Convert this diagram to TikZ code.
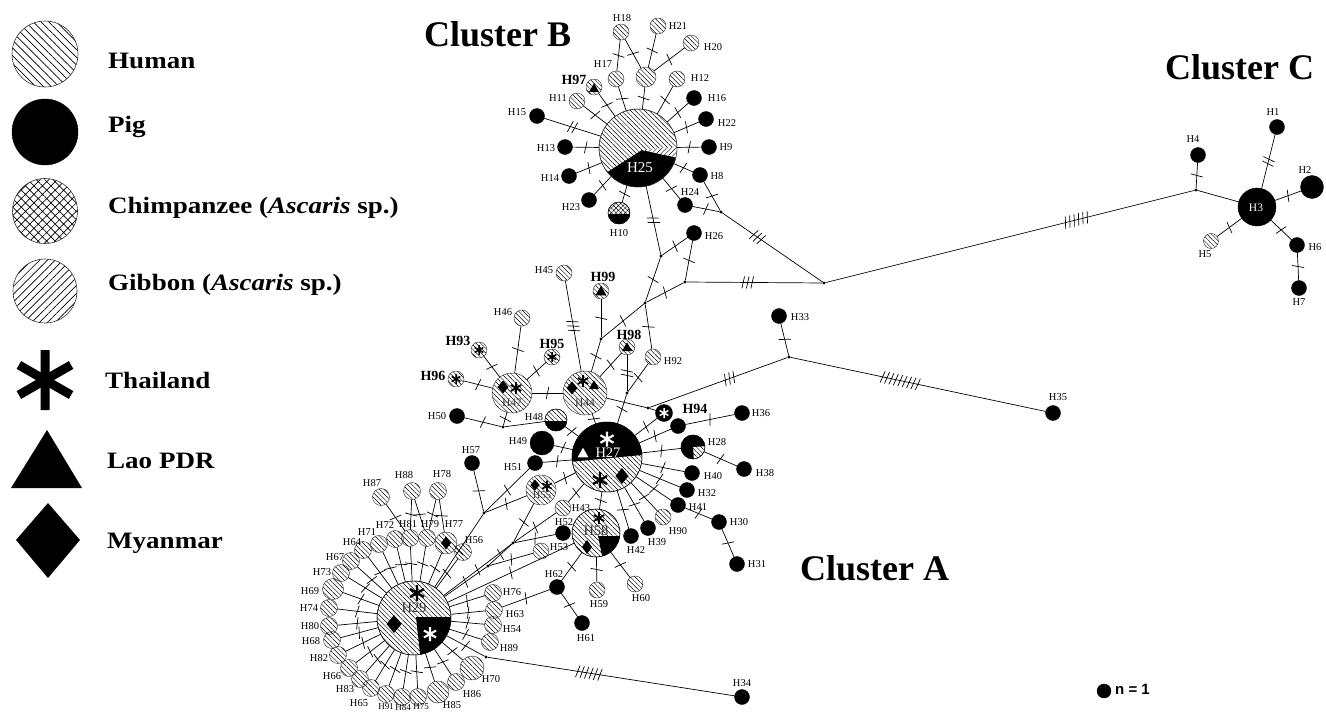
\documentclass[tikz,border=0pt]{standalone}
\usepackage{fontspec}
\setmainfont{Liberation Serif}
\newfontfamily\legfont{Liberation Serif}[FakeStretch=1.15]
\newfontfamily\sansfnt{Liberation Sans}
\usetikzlibrary{patterns.meta,decorations.markings,backgrounds}

\newcommand{\MkAst}[4]{\begin{scope}[shift={(#1,#2)}]\draw[#4,line width=#3*0.3pt] (0,-#3) -- (0,#3) (-0.87*#3,-0.5*#3) -- (0.87*#3,0.5*#3) (-0.87*#3,0.5*#3) -- (0.87*#3,-0.5*#3);\end{scope}}
\newcommand{\MkTri}[4]{\fill[#4] (#1-#3,#2+0.8*#3) -- (#1+#3,#2+0.8*#3) -- (#1,#2-0.95*#3) -- cycle;}
\newcommand{\MkDia}[5]{\fill[#5] (#1,#2-#4) -- (#1+#3,#2) -- (#1,#2+#4) -- (#1-#3,#2) -- cycle;}

\tikzset{
 nd/.style={circle, inner sep=0pt, outer sep=0pt},
 hum/.style={nd, draw=black!80, line width=0.45pt, pattern={Lines[angle=-45,distance=3.3pt,line width=0.45pt]}, minimum size=#1},
 hum/.default=17pt,
 chi/.style={nd, draw=black!80, line width=0.45pt, pattern={Hatch[angle=45,distance=3.3pt,line width=0.45pt]}, minimum size=#1},
 pig/.style={nd, fill=black, draw=black, minimum size=#1},
 pig/.default=15pt,
 jn/.style={nd, fill=black, minimum size=3.2pt},
 lhum/.style={nd, draw=black!80, line width=0.6pt, pattern={Lines[angle=-45,distance=5.5pt,line width=0.7pt]}, minimum size=#1},
 lchi/.style={nd, draw=black!80, line width=0.6pt, pattern={Hatch[angle=45,distance=6pt,line width=0.7pt]}, minimum size=#1},
 lgib/.style={nd, draw=black!80, line width=0.6pt, pattern={Lines[angle=45,distance=5.5pt,line width=0.7pt]}, minimum size=#1},
 edge/.style={line width=0.7pt},
 lab/.style={inner sep=0pt, font=\fontsize{10.5}{11}\selectfont},
 slab/.style={inner sep=0pt, font=\fontsize{9}{10}\selectfont},
 blab/.style={inner sep=0pt, font=\fontsize{14}{15}\selectfont\bfseries},
 ttl/.style={inner sep=0pt, anchor=base west, font=\fontsize{36}{40}\selectfont\bfseries},
 leg/.style={inner sep=0pt, anchor=base west, font=\legfont\fontsize{23.5}{26}\selectfont\bfseries},
 tickpos/.store in=\tpos, tickpos=0.5,
 mut/.style={postaction={decorate,decoration={markings,mark=at position \tpos with {\foreach \k in {1,...,#1}{\draw[line width=0.7pt] ({(\k-(#1+1)/2)*4.5pt-1.3pt},-6pt) -- ({(\k-(#1+1)/2)*4.5pt+1.3pt},6pt);}}}}},
}

\begin{document}
\begin{tikzpicture}[x=1pt,y=-1pt]
\useasboundingbox (0,0) rectangle (1326,712);
\begin{scope}[on background layer]
\fill[white] (0,0) rectangle (1326,712);
\end{scope}

% ---------- legend ----------
\node[lhum=66pt] (LHum) at (45,54) {};
\node[pig=66pt] (LPig) at (45,132) {};
\node[lchi=65pt] (LChi) at (45,211) {};
\node[lgib=64pt] (LGib) at (45,291) {};
\MkAst{45}{380}{30}{black}
\fill (11,488) -- (82,488) -- (47,430) -- cycle;
\fill (48,503) -- (80,540) -- (48,578) -- (16,540) -- cycle;
\node[leg] (tHum) at (108,68) {Human};
\node[leg] (tPig) at (108,132) {Pig};
\node[leg] (tChi) at (108,213) {Chimpanzee (\textit{Ascaris} sp.)};
\node[leg] (tGib) at (108,290) {Gibbon (\textit{Ascaris} sp.)};
\node[leg] (tTha) at (105,388) {Thailand};
\node[leg] (tLao) at (107,468) {Lao PDR};
\node[leg] (tMya) at (107,548) {Myanmar};

\node[ttl] (tB) at (424,46) {Cluster B};
\node[ttl] (tC) at (1165,79) {Cluster C};
\node[ttl] (tA) at (800,580) {Cluster A};

\node[pig=14pt] (N1) at (1104,691) {};
\node[anchor=west, inner sep=0pt, font=\sansfnt\bfseries\fontsize{15}{16}\selectfont] (tN1) at (1115,689) {n = 1};

% ---------- junctions ----------
\foreach \n/\x/\y in {jH8/721/212, ja/661/256, jb/685/282, jc/645/303, jfar/824/283, jd/601/339, je/627/393, jf/648/408, j33/789/357, jC/1196/190, jg/503/427, j57/484/513, jk/513/543, jl/488/566, j34/486/657}
  \node[jn] (\n) at (\x,\y) {};

% ---------- cluster B ----------
\node[hum=78pt] (H25) at (638,148) {};
\begin{scope}
\clip (638,148) circle (39pt);
\fill[black] (595,180) -- (642,150) -- (690,160.5) -- (690,195) -- (595,195) -- cycle;
\fill[white] (642,150) -- (690,145.5) -- (690,160.5) -- cycle;
\fill[pattern={Lines[angle=45,distance=3.3pt,line width=0.45pt]}] (642,150) -- (690,145.5) -- (690,160.5) -- cycle;
\end{scope}
\draw[line width=0.45pt, black!80] (638,148) circle (39pt);
\node[inner sep=0pt, text=white, font=\fontsize{15}{16}\selectfont] (lH25) at (640,168) {H25};

\node[hum=20pt] (Hm) at (646,77) {};
\foreach \n/\x/\y in {H18/621/32, H21/658/26, H20/691/43, H17/616/79, H12/677/79, H11/577/101}
  \node[hum=16pt] (\n) at (\x,\y) {};
\node[hum=16pt] (H97) at (594,87) {};
\MkTri{594}{88}{5}{black}
\foreach \n/\x/\y in {H15/537/116, H16/694/98, H22/706/119, H13/565/147, H9/709/147, H14/569/176, H8/700/175, H23/589/200, H24/685/205, H26/694/233}
  \node[pig] (\n) at (\x,\y) {};
\node[chi=22pt] (H10) at (619,213) {};
\begin{scope}
\clip (619,213) circle (11pt);
\fill[black] (606,214) rectangle (632,226);
\end{scope}
\draw[line width=0.45pt] (619,213) circle (11pt);

% ---------- cluster C ----------
\node[pig=38pt] (H3) at (1257,207) {};
\node[inner sep=0pt, text=white, font=\fontsize{11.5}{12}\selectfont] (lH3) at (1256,208) {H3};
\foreach \n/\x/\y in {H1/1277/127, H4/1198/155, H6/1297/245, H7/1299/288}
  \node[pig] (\n) at (\x,\y) {};
\node[pig=23pt] (H2) at (1312,187) {};
\node[hum=15pt] (H5) at (1211,241) {};

% ---------- cluster A upper ----------
\foreach \n/\x/\y in {H45/564/273, H46/522/318, H92/653/357}
  \node[hum=16pt] (\n) at (\x,\y) {};
\node[hum=16pt] (H99) at (601,291) {}; \MkTri{601}{291}{5.5}{black}
\node[hum=16pt] (H98) at (627,347) {}; \MkTri{627}{347}{5}{black}
\node[hum=16pt] (H93) at (479,350) {}; \MkAst{479}{350}{5}{black}
\node[hum=16pt] (H95) at (552,357) {}; \MkAst{552}{357}{5}{black}
\node[hum=16pt] (H96) at (456,379) {}; \MkAst{456}{379}{5}{black}

\node[hum=40pt] (H47) at (512,393) {};
\MkDia{503}{387}{5.5}{6.5}{black} \MkAst{516}{388}{6}{black}
\node[lab, text=black!75, font=\fontsize{11.5}{12}\selectfont] (lH47) at (512,403) {H47};
\node[hum=44pt] (H44) at (585,393) {};
\MkDia{572}{388}{5.5}{6.5}{black} \MkAst{583}{381}{6}{black} \MkTri{594}{385}{5}{black}
\node[lab, text=black!75, font=\fontsize{11.5}{12}\selectfont] (lH44) at (585,403) {H44};

\node[hum=22pt] (H48) at (556,420) {};
\begin{scope}
\clip (556,420) circle (11pt);
\fill[black] (543,421) rectangle (569,433);
\end{scope}
\draw[line width=0.45pt] (556,420) circle (11pt);

\foreach \n/\x/\y in {H50/457/416, H51/535/463, H57/472/463, H52/563/533, H62/557/587, H61/582/623, H42/631/536, H39/648/528, H41/678/505, H32/687/490, H40/692/473, H30/719/522, H31/737/564, H38/744/469, H36/742/413, H94/678/426, H33/779/316, H35/1053/413, H34/742/697}
  \node[pig] (\n) at (\x,\y) {};
\node[pig=24pt] (H49) at (542,443) {};
\node[pig=17pt] (Hs) at (664,413) {}; \MkAst{664}{413}{5}{white}
\foreach \n/\x/\y in {H43/563/508, H53/541/551, H59/597/590, H60/635/584, H90/663/517}
  \node[hum=16pt] (\n) at (\x,\y) {};

\node[hum=24pt] (H28) at (693,447) {};
\begin{scope}
\clip (693,447) circle (12pt);
\fill[black] (679,462) -- (679,432) -- (708,432) -- (708,446) -- (693,447) -- (694,462) -- cycle;
\end{scope}
\draw[line width=0.45pt] (693,447) circle (12pt);

\node[hum=70pt] (H27) at (607,457) {};
\begin{scope}
\clip (607,457) circle (35pt);
\fill[black] (565,462.4) -- (650,454.2) -- (650,415) -- (565,415) -- cycle;
\end{scope}
\draw[line width=0.45pt] (607,457) circle (35pt);
\MkAst{607}{439}{7.5}{white}
\MkTri{583}{453}{5.5}{white}
\MkAst{600}{480}{8}{black}
\MkDia{622}{476}{6.5}{8}{black}
\node[inner sep=0pt, text=white, font=\fontsize{14.5}{15}\selectfont] (lH27) at (608,453) {H27};

\node[hum=30pt] (H55) at (541,490) {};
\MkDia{535}{485}{4.5}{5.5}{black} \MkAst{547}{486}{5.5}{black}
\node[lab, text=black!75] (lH55) at (542,495) {H55};

\node[hum=48pt] (H58) at (596,533) {};
\begin{scope}
\clip (596,533) circle (24pt);
\fill[black] (598,536) -- (625,536) -- (625,565) -- (604,565) -- cycle;
\end{scope}
\draw[line width=0.45pt] (596,533) circle (24pt);
\MkAst{599}{518}{6}{black}
\MkDia{587}{547}{5}{7}{black}
\node[inner sep=0pt, text=black!80, font=\fontsize{14.5}{15}\selectfont] (lH58) at (596,531) {H58};

% ---------- H29 star ----------
\node[hum=74pt] (H29) at (414,618) {};
\begin{scope}
\clip (414,618) circle (37pt);
\fill[black] (416,617) -- (460,617) -- (460,665) -- (421.3,665) -- cycle;
\end{scope}
\draw[line width=0.45pt] (414,618) circle (37pt);
\MkAst{430}{634}{7}{white}
\MkAst{417}{593}{8}{black}
\MkDia{394}{624}{7.5}{9}{black}
\node[inner sep=0pt, text=black!80, font=\fontsize{14.5}{15}\selectfont] (lH29) at (414,608) {H29};

\foreach \n/\x/\y in {H87/381/497, H88/412/491, H78/438/491, H81/410/538, H79/427/538, H56/463/552, H72/395/539, H71/379/544, H64/363/550, H67/351/561, H73/341/573, H74/329/608, H80/329/626, H68/332/640, H82/338/655, H66/349/668, H83/360/679, H65/371/688, H91/386/694, H84/402/697, H75/418/697, H86/456/682, H89/490/642, H54/493/625, H63/494/610, H76/493/593}
  \node[hum=17pt] (\n) at (\x,\y) {};
\node[hum=21pt] (H69) at (333,589) {};
\node[hum=22pt] (H85) at (438,692) {};
\node[hum=24pt] (H70) at (472,668) {};
\node[hum=22pt] (H77) at (446,543) {};
\MkDia{446}{543}{5}{6.5}{black}

% ---------- labels ----------
\foreach \n/\x/\y in {H18/622/18, H21/678/26, H20/713/47, H17/603/64, H12/700/78, H11/558/98, H15/517/112, H16/717/98, H22/727/123, H13/546/148, H9/726/147, H14/550/178, H8/717/176, H23/571/207, H10/619/233, H24/690/192, H26/714/236,
 H1/1273/112, H4/1193/139, H2/1305/170, H5/1205/254, H6/1315/247, H7/1299/302,
 H45/544/270, H46/503/312, H92/673/361, H50/437/416, H48/534/417, H49/518/441, H51/513/467, H57/471/450,
 H43/581/508, H52/564/522, H53/559/547, H62/554/574, H42/636/550, H39/657/542, H90/678/531, H41/698/507, H32/707/493, H40/713/476, H30/739/522, H31/757/564, H28/717/442, H38/765/473, H36/761/413,
 H33/800/317, H35/1058/397, H34/742/683, H59/599/604, H60/641/598, H61/586/638,
 H87/372/483, H88/404/475, H78/442/474, H72/385/525, H81/408/524, H79/430/524, H77/454/524, H71/367/532, H56/474/540, H64/352/542, H67/335/557, H73/322/572, H69/310/591, H74/309/608, H80/310/626, H68/311/641, H82/319/658, H66/332/676, H83/345/689, H65/359/703, H85/452/705, H86/472/694, H70/491/679, H89/509/648, H54/512/629, H63/515/614, H76/512/592}
  \node[lab] (l\n) at (\x,\y) {\n};
\foreach \n/\x/\y in {H91/386/707, H84/403/708, H75/421/707}
  \node[slab] (l\n) at (\x,\y) {\n};
\foreach \n/\x/\y in {H97/574/80, H99/603/277, H98/629/335, H95/552/344, H93/458/341, H96/433/376, H94/695/409}
  \node[blab] (l\n) at (\x,\y) {\n};

% ---------- edges ----------
\begin{scope}[on background layer]
\foreach \a/\b in {H25/H11,H25/H97,H25/H17,H25/Hm,H25/H12,H25/H16,H25/H22,H25/H9,H25/H8,H25/H24,H25/H10,H25/H23,H25/H14,H25/H13,H17/H18,Hm/H18,Hm/H21,Hm/H20,H8/jH8,H24/jH8,ja/H26,ja/jc,H26/jb,jb/jc,jC/H4,H3/H2,H3/H5,H3/H6,H6/H7,
 jc/jd,jc/H92,jd/H99,jd/H44,H92/je,H98/H44,je/H27,j33/H33,H47/H46,H47/H93,H47/H95,H47/H96,H47/H44,H50/jg,jg/H47,
 H27/H44,H27/H48,H27/H49,H27/H51,H27/H55,H27/H43,H27/H58,H27/H42,H27/H39,H27/H90,H27/H41,H27/H32,H27/H40,H27/H28,H27/H94,H27/Hs,
 H41/H30,H30/H31,H94/H36,H28/H38,H58/H59,H58/H60,H58/H62,H62/H61,H63/H62,
 H29/j57,j57/H57,j57/H51,j57/H55,H29/jk,jk/H55,jk/H43,jk/H52,H29/jl,jl/H53,jl/jk,H29/H58,H29/j34,
 H87/H81,H88/H81,H88/H79,H78/H79,H78/H77,
 H29/H81,H29/H79,H29/H77,H29/H56,H29/H72,H29/H71,H29/H64,H29/H67,H29/H73,H29/H69,H29/H74,H29/H80,H29/H68,H29/H82,H29/H66,H29/H83,H29/H65,H29/H91,H29/H84,H29/H75,H29/H85,H29/H86,H29/H70,H29/H89,H29/H54,H29/H63,H29/H76}
  \draw[edge,mut=1] (\a) -- (\b);
\foreach \a/\b in {jC/H3,H44/jf,jf/Hs,jg/H48}
  \draw[edge] (\a) -- (\b);
\foreach \a/\b in {H25/H15,H25/ja,H3/H1,H98/je}
  \draw[edge,mut=2] (\a) -- (\b);
\draw[edge,mut=3] (H45) -- (H44);
\draw[edge,tickpos=0.35,mut=3] (jH8) -- (jfar);
\draw[edge,tickpos=0.45,mut=3] (jb) -- (jfar);
\draw[edge,tickpos=0.58,mut=3] (jf) -- (j33);
\draw[edge,tickpos=0.68,mut=6] (jfar) -- (jC);
\draw[edge,tickpos=0.41,mut=6] (j34) -- (H34);
\draw[edge,tickpos=0.43,mut=9] (j33) -- (H35);
\end{scope}
\end{tikzpicture}
\end{document}
